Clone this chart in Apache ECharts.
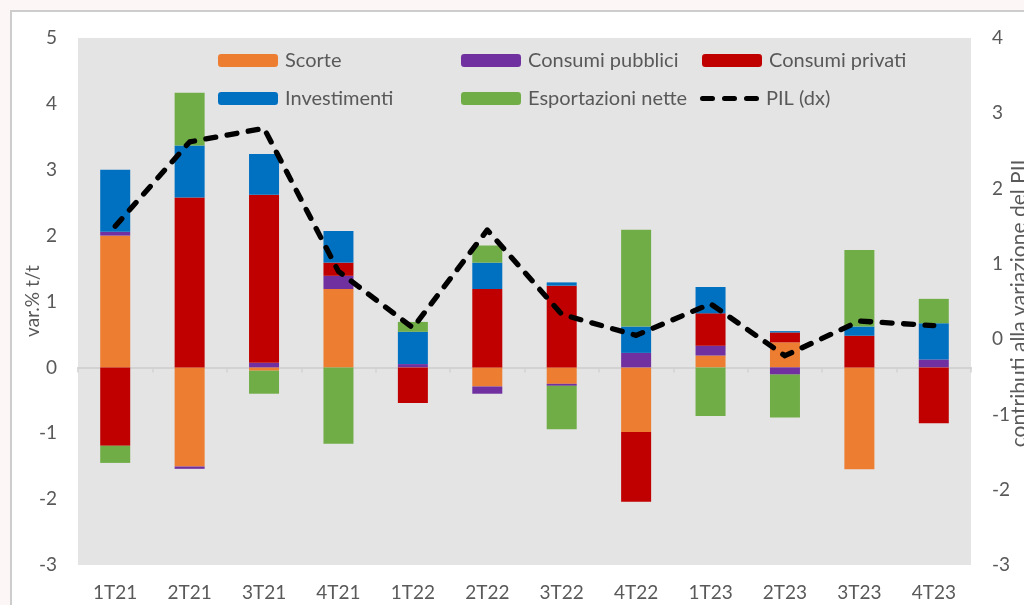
<!DOCTYPE html>
<html>
<head>
<meta charset="utf-8">
<script src="https://cdn.jsdelivr.net/npm/echarts@6/dist/echarts.min.js"></script>
<style>
  html, body { margin: 0; padding: 0; width: 1024px; height: 605px; overflow: hidden; background: #fcf7f6; }
  #card { position: absolute; left: 10px; top: 10px; width: 1100px; height: 700px; background: #ffffff; border: 2px solid #cdcdcd; box-sizing: border-box; }
  #chart { position: absolute; left: 0; top: 0; width: 1024px; height: 605px; }
</style>
</head>
<body>
<div id="card"></div>
<div id="chart"></div>
<script>
const categories = ['1T21', '2T21', '3T21', '4T21', '1T22', '2T22', '3T22', '4T22', '1T23', '2T23', '3T23', '4T23'];
const scorte = [2.0, -1.505, -0.05, 1.19, 0, -0.29, -0.25, -0.98, 0.18, 0.38, -1.545, 0];
const consumiPubblici = [0.06, -0.035, 0.07, 0.20, 0.05, -0.11, -0.03, 0.22, 0.15, -0.11, 0, 0.12];
const consumiPrivati = [-1.19, 2.58, 2.55, 0.20, -0.54, 1.19, 1.24, -1.06, 0.49, 0.15, 0.48, -0.85];
const investimenti = [0.94, 0.79, 0.62, 0.48, 0.49, 0.40, 0.05, 0.40, 0.40, 0.02, 0.14, 0.55];
const esportazioniNette = [-0.26, 0.80, -0.35, -1.16, 0.15, 0.26, -0.66, 1.47, -0.74, -0.65, 1.16, 0.37];
const pil = [1.5, 2.62, 2.8, 0.9, 0.15, 1.45, 0.33, 0.05, 0.47, -0.22, 0.24, 0.18];
const leftTicks = [-3, 5];
const rightTicks = [-3, 4];

const FONT = 'Lato';
const TXT = '#595959';
const chart = echarts.init(document.getElementById('chart'), null, { renderer: 'canvas' });

function legendAt(name, left, cy, extra) {
  return Object.assign({
    data: [name], left: left, top: cy - 10, padding: 0,
    itemWidth: 60, itemHeight: 13, selectedMode: false,
    textStyle: { color: TXT, fontFamily: FONT, fontSize: 20, padding: [0, 0, 0, 2] }
  }, extra || {});
}
function barSeries(name, data, color) {
  return {
    name: name, type: 'bar', stack: 'tot', data: data, barWidth: 30,
    xAxisIndex: 0, yAxisIndex: 0,
    itemStyle: { color: color }, emphasis: { disabled: true }
  };
}
const dashIcon = 'path://M2.5,0H12.5A2.5,2.5 0 0 1 12.5,5H2.5A2.5,2.5 0 0 1 2.5,0Z' +
  'M24.5,0H34.5A2.5,2.5 0 0 1 34.5,5H24.5A2.5,2.5 0 0 1 24.5,0Z' +
  'M46.5,0H56.5A2.5,2.5 0 0 1 56.5,5H46.5A2.5,2.5 0 0 1 46.5,0Z';

chart.setOption({
  animation: false,
  backgroundColor: 'transparent',
  textStyle: { fontFamily: FONT },
  grid: { left: 78, right: 53, top: 38, bottom: 40, show: true, backgroundColor: '#e4e4e4', borderWidth: 0 },
  legend: [
    legendAt('Scorte', 218, 60.5),
    legendAt('Investimenti', 218, 98.5),
    legendAt('Consumi pubblici', 461, 60.5),
    legendAt('Esportazioni nette', 461, 98.5),
    legendAt('Consumi privati', 702, 60.5),
    legendAt('PIL (dx)', 700, 98.5, { data: [{ name: 'PIL (dx)', icon: dashIcon }], itemWidth: 59, itemHeight: 5 })
  ],
  xAxis: [
    {
      type: 'category', data: categories, position: 'bottom',
      axisLine: { show: false, onZero: false }, axisTick: { show: false },
      axisLabel: { color: TXT, fontFamily: FONT, fontSize: 19, margin: 18 }
    },
    {
      type: 'category', data: categories, position: 'bottom',
      axisLine: { show: true, onZero: true, onZeroAxisIndex: 0, lineStyle: { color: '#d2d2d2', width: 2 } },
      axisTick: { show: true, length: 5, lineStyle: { color: '#d2d2d2', width: 1.5 } },
      axisLabel: { show: false }
    }
  ],
  yAxis: [
    {
      type: 'value', min: leftTicks[0], max: leftTicks[1], interval: 1,
      axisLine: { show: false }, axisTick: { show: false }, splitLine: { show: false },
      axisLabel: { color: TXT, fontFamily: FONT, fontSize: 19, margin: 21 }
    },
    {
      type: 'value', min: rightTicks[0], max: rightTicks[1], interval: 1, position: 'right',
      axisLine: { show: false }, axisTick: { show: false }, splitLine: { show: false },
      axisLabel: { color: TXT, fontFamily: FONT, fontSize: 19, margin: 21 }
    }
  ],
  graphic: [
    {
      type: 'text', x: 33, y: 301, rotation: Math.PI / 2,
      style: { text: 'var.% t/t', fill: TXT, font: '19px Lato', align: 'center', verticalAlign: 'middle' }
    },
    {
      type: 'text', x: 1019, y: 301, rotation: Math.PI / 2,
      style: { text: 'contributi alla variazione del PIL', fill: TXT, font: '21px Lato', align: 'center', verticalAlign: 'middle' }
    }
  ],
  series: [
    barSeries('Scorte', scorte, '#ed7d31'),
    barSeries('Consumi pubblici', consumiPubblici, '#7030a0'),
    barSeries('Consumi privati', consumiPrivati, '#c00000'),
    barSeries('Investimenti', investimenti, '#0070c0'),
    barSeries('Esportazioni nette', esportazioniNette, '#70ad47'),
    {
      name: 'PIL (dx)', type: 'line', data: pil, xAxisIndex: 0, yAxisIndex: 1,
      symbol: 'none', z: 5,
      itemStyle: { color: '#000000' },
      lineStyle: { color: '#000000', width: 5.3, type: [10, 11.5], cap: 'round', join: 'round' },
      emphasis: { disabled: true }
    }
  ]
});
</script>
</body>
</html>
